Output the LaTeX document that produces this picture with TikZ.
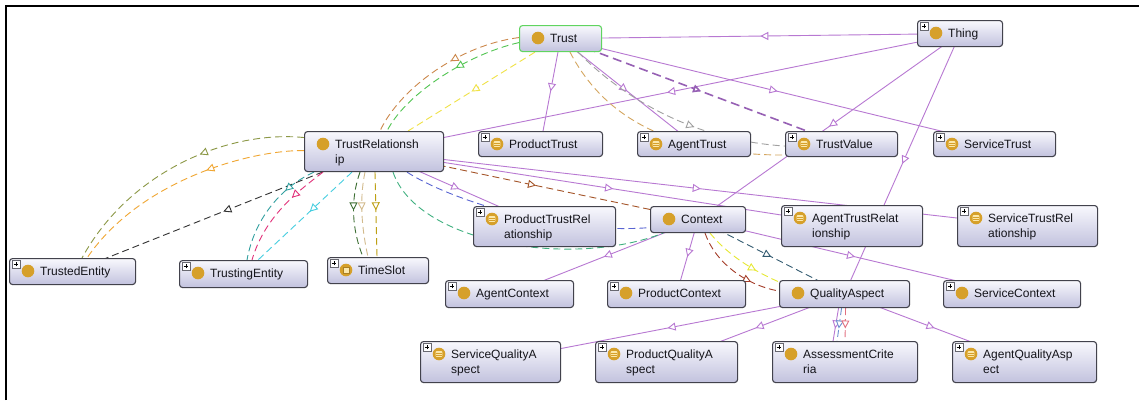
\documentclass[tikz,border=0pt]{standalone}
\usepackage{fontspec}
\setmainfont{Liberation Sans}
\usetikzlibrary{arrows.meta,decorations.markings,backgrounds,calc}

% class boxes and icons
\definecolor{isacol}{RGB}{184,120,210}
\definecolor{boxline}{RGB}{66,66,76}
\definecolor{boxtop}{RGB}{248,248,253}
\definecolor{boxbottom}{RGB}{194,194,222}
\definecolor{rootline}{RGB}{96,212,96}
\definecolor{iconfill}{RGB}{214,160,42}
\definecolor{iconlight}{RGB}{252,232,170}
\definecolor{labelcol}{RGB}{20,20,26}
% object property colours
\definecolor{pBrownT}{RGB}{204,136,76}
\definecolor{pGreenT}{RGB}{80,196,80}
\definecolor{pYellowT}{RGB}{240,226,70}
\definecolor{pOlive}{RGB}{140,152,70}
\definecolor{pOrange}{RGB}{240,166,50}
\definecolor{pBlack}{RGB}{50,50,50}
\definecolor{pTeal}{RGB}{50,160,160}
\definecolor{pPink}{RGB}{226,50,122}
\definecolor{pCyan}{RGB}{70,206,224}
\definecolor{pDarkGreen}{RGB}{60,110,50}
\definecolor{pTan}{RGB}{210,186,140}
\definecolor{pGold}{RGB}{190,160,20}
\definecolor{pRust}{RGB}{164,84,40}
\definecolor{pBlue}{RGB}{88,100,210}
\definecolor{pSea}{RGB}{64,176,128}
\definecolor{pViolet}{RGB}{150,96,180}
\definecolor{pGrey}{RGB}{160,160,160}
\definecolor{pSand}{RGB}{212,166,96}
\definecolor{pRed}{RGB}{164,60,40}
\definecolor{pLemon}{RGB}{230,232,50}
\definecolor{pSlate}{RGB}{50,90,112}
\definecolor{pSteel}{RGB}{110,144,208}
\definecolor{pRose}{RGB}{226,112,128}

\tikzset{
  clsbox/.style={draw=boxline, line width=1.1pt, rounded corners=3pt,
    top color=boxtop, bottom color=boxbottom, inner sep=0pt, anchor=north west},
  rootbox/.style={draw=rootline},
  clstext/.style={anchor=base west, inner sep=0pt, text=labelcol,
    font=\fontsize{12}{15}\selectfont},
  circicon/.style={circle, fill=iconfill, minimum size=12.6pt, inner sep=0pt},
  equivicon/.style={circicon, path picture={
      \fill[iconlight, rounded corners=0.8pt]
        ([shift={(-3.4pt,-2.8pt)}]path picture bounding box.center)
        rectangle ([shift={(3.4pt,2.8pt)}]path picture bounding box.center);
      \draw[iconfill, line width=0.8pt]
        ([shift={(-3.4pt,0.9pt)}]path picture bounding box.center) -- ++(6.8pt,0pt)
        ([shift={(-3.4pt,-0.9pt)}]path picture bounding box.center) -- ++(6.8pt,0pt);}},
  sloticon/.style={circicon, path picture={
      \filldraw[fill=iconlight, draw=iconfill!80!black, line width=0.4pt]
        ([shift={(-2.8pt,-2.8pt)}]path picture bounding box.center)
        rectangle ([shift={(2.8pt,2.8pt)}]path picture bounding box.center);}},
  plusbox/.style={draw=boxline!80, fill=white, line width=0.5pt,
    minimum size=7.5pt, inner sep=0pt, path picture={
      \draw[black, line width=0.8pt]
        ([xshift=-2.3pt]path picture bounding box.center) -- ++(4.6pt,0pt)
        ([yshift=-2.3pt]path picture bounding box.center) -- ++(0pt,4.6pt);}},
  mid/.style={postaction={decorate, decoration={markings,
      mark=at position #1 with {\arrow{Triangle[length=8pt,width=8pt,fill=white]}}}}},
  isa/.style={draw=isacol, line width=0.9pt},
  prop/.style={draw=#1, line width=0.9pt, dash pattern=on 7pt off 4pt},
  boldprop/.style={draw=#1, line width=1.6pt, dash pattern=on 9pt off 5pt},
}

% #1 extra box style, #2 name, #3 left, #4 top, #5 width, #6 height,
% #7 icon style, #8 first line, #9 second line
\newcommand\owlclass[9][]{%
  \node[clsbox, #1, minimum width=#5pt, minimum height=#6pt] (#2) at (#3,#4) {};
  \node[#7] (#2-icon) at ($(#2.north west)+(19,13)$) {};
  \node[clstext] (#2-text) at ($(#2.north west)+(31,17.5)$) {#8};
  \if\relax\detokenize{#9}\relax\else
    \node[clstext] (#2-text2) at ($(#2.north west)+(31,32.5)$) {#9};
  \fi
}
\newcommand\owlplus[1]{\node[plusbox] (#1-plus) at ($(#1.north west)+(7,6)$) {};}

\begin{document}
\begin{tikzpicture}[x=1pt, y=-1pt]
\useasboundingbox (0,0) rectangle (1139,400);

% classes
\owlclass[rootbox]{Trust}{519}{25}{82}{26}{circicon}{Trust}{}
\owlclass{Thing}{917}{20}{85}{26}{circicon}{Thing}{}
\owlclass{TrustRel}{304}{131}{139}{40}{circicon}{TrustRelationsh}{ip}
\owlclass{ProductTrust}{478}{131}{124}{25}{equivicon}{ProductTrust}{}
\owlclass{AgentTrust}{637}{131}{113}{25}{equivicon}{AgentTrust}{}
\owlclass{TrustValue}{785}{131}{112}{25}{equivicon}{TrustValue}{}
\owlclass{ServiceTrust}{933}{131}{122}{25}{equivicon}{ServiceTrust}{}
\owlclass{TrustedEntity}{9}{258}{126}{26}{circicon}{TrustedEntity}{}
\owlclass{TrustingEntity}{179}{260}{128}{27}{circicon}{TrustingEntity}{}
\owlclass{TimeSlot}{327}{257}{101}{26}{sloticon}{TimeSlot}{}
\owlclass{ProductTrustRel}{473}{206}{142}{40}{equivicon}{ProductTrustRel}{ationship}
\owlclass{Context}{650}{206}{95}{26}{circicon}{Context}{}
\owlclass{AgentTrustRel}{781}{205}{141}{41}{equivicon}{AgentTrustRelat}{ionship}
\owlclass{ServiceTrustRel}{957}{205}{140}{41}{equivicon}{ServiceTrustRel}{ationship}
\owlclass{AgentContext}{445}{280}{128}{27}{circicon}{AgentContext}{}
\owlclass{ProductContext}{607}{280}{138}{27}{circicon}{ProductContext}{}
\owlclass{QualityAspect}{779}{280}{130}{27}{circicon}{QualityAspect}{}
\owlclass{ServiceContext}{943}{280}{137}{27}{circicon}{ServiceContext}{}
\owlclass{ServiceQualityAspect}{420}{341}{140}{41}{equivicon}{ServiceQualityA}{spect}
\owlclass{ProductQualityAspect}{595}{341}{142}{41}{equivicon}{ProductQualityA}{spect}
\owlclass{AssessmentCriteria}{772}{341}{145}{41}{circicon}{AssessmentCrite}{ria}
\owlclass{AgentQualityAspect}{952}{341}{144}{41}{equivicon}{AgentQualityAsp}{ect}

\foreach \c in {Thing,ProductTrust,AgentTrust,TrustValue,ServiceTrust,
  TrustedEntity,TrustingEntity,TimeSlot,ProductTrustRel,AgentTrustRel,
  ServiceTrustRel,AgentContext,ProductContext,ServiceContext,
  ServiceQualityAspect,ProductQualityAspect,AssessmentCriteria,AgentQualityAspect}
  {\owlplus{\c}}

\begin{pgfonlayer}{background}
\fill[white] (0,0) rectangle (1139,400);

% subclass edges
\draw[isa, mid=0.5] (Thing.center) -- (Trust.center);
\draw[isa, mid=0.5] (Thing.center) -- (TrustRel.center);
\draw[isa, mid=0.5] (Thing.center) -- (Context.center);
\draw[isa, mid=0.5] (Thing.center) -- (QualityAspect.center);
\draw[isa, mid=0.5] (Trust.center) -- (ProductTrust.center);
\draw[isa, mid=0.5] (Trust.center) -- (AgentTrust.center);
\draw[isa, mid=0.5] (Trust.center) -- (ServiceTrust.center);
\draw[isa, mid=0.5] (TrustRel.center) -- (ProductTrustRel.center);
\draw[isa, mid=0.5] (TrustRel.center) -- (AgentTrustRel.center);
\draw[isa, mid=0.5] (TrustRel.center) -- (ServiceTrustRel.center);
\draw[isa, mid=0.5] (Context.center) -- (AgentContext.center);
\draw[isa, mid=0.5] (Context.center) -- (ProductContext.center);
\draw[isa, mid=0.5] (Context.center) -- (ServiceContext.center);
\draw[isa, mid=0.5] (QualityAspect.center) -- (ServiceQualityAspect.center);
\draw[isa, mid=0.5] (QualityAspect.center) -- (ProductQualityAspect.center);
\draw[isa, mid=0.5] (QualityAspect.center) -- (AgentQualityAspect.center);
\draw[isa, mid=0.62] ($(QualityAspect.south)+(-6,0)$) -- ($(AssessmentCriteria.north)+(-12,0)$);

% Trust -> TrustRelationship
\draw[prop=pBrownT, mid=0.42] ($(Trust.west)+(0,-1)$)
  .. controls (460,45) and (400,88) .. ($(TrustRel.north west)+(76,0)$);
\draw[prop=pGreenT, mid=0.42] ($(Trust.west)+(0,4)$)
  .. controls (465,55) and (405,95) .. ($(TrustRel.north west)+(83,0)$);
\draw[prop=pYellowT, mid=0.5] ($(Trust.south west)+(16,0)$) -- ($(TrustRel.north west)+(104,0)$);

% Trust -> TrustValue
\draw[boldprop=pViolet, mid=0.5] (Trust.center) -- (TrustValue.center);
\draw[prop=pGrey, mid=0.6] ($(Trust.south west)+(59,0)$)
  .. controls (620,95) and (690,140) .. ($(TrustValue.west)+(0,2)$);
\draw[prop=pSand, mid=0.7] ($(Trust.south west)+(51,0)$)
  .. controls (600,110) and (660,155) .. ($(TrustValue.west)+(0,11)$);

% TrustRelationship -> TrustedEntity
\draw[prop=pOlive, mid=0.4] ($(TrustRel.west)+(0,-14)$)
  .. controls (230,130) and (130,170) .. ($(TrustedEntity.north west)+(73,0)$);
\draw[prop=pOrange, mid=0.4] ($(TrustRel.west)+(0,-1)$)
  .. controls (250,150) and (140,180) .. ($(TrustedEntity.north west)+(78,0)$);
\draw[prop=pBlack, mid=0.5] (TrustRel.center) -- (TrustedEntity.center);

% TrustRelationship -> TrustingEntity
\draw[prop=pTeal, mid=0.3] ($(TrustRel.south west)+(10,0)$)
  .. controls (285,185) and (255,215) .. ($(TrustingEntity.north west)+(68,0)$);
\draw[prop=pPink, mid=0.35] ($(TrustRel.south west)+(19,0)$)
  .. controls (300,190) and (265,215) .. ($(TrustingEntity.north west)+(73,0)$);
\draw[prop=pCyan, mid=0.45] ($(TrustRel.south west)+(48,0)$) -- ($(TrustingEntity.north west)+(79,0)$);

% TrustRelationship -> TimeSlot
\draw[prop=pDarkGreen, mid=0.45] ($(TrustRel.south west)+(56,0)$)
  .. controls (350,200) and (352,230) .. ($(TimeSlot.north west)+(36,0)$);
\draw[prop=pTan, mid=0.45] ($(TrustRel.south west)+(61,0)$)
  .. controls (359,200) and (362,230) .. ($(TimeSlot.north west)+(41,0)$);
\draw[prop=pGold, mid=0.45] ($(TrustRel.south west)+(71,0)$) -- ($(TimeSlot.north west)+(50,0)$);

% TrustRelationship -> Context
\draw[prop=pRust, mid=0.5] (TrustRel.center) -- (Context.center);
\draw[prop=pBlue, mid=0.6] ($(TrustRel.south west)+(103,0)$)
  .. controls (450,200) and (560,235) .. ($(Context.west)+(0,8)$);
\draw[prop=pSea, mid=0.47] ($(TrustRel.south west)+(89,0)$)
  .. controls (418,245) and (575,268) .. ($(Context.south west)+(13,0)$);

% Context -> QualityAspect
\draw[prop=pRed, mid=0.7] ($(Context.south west)+(55,0)$)
  .. controls (715,262) and (745,285) .. ($(QualityAspect.west)+(0,-3)$);
\draw[prop=pLemon, mid=0.7] ($(Context.south west)+(60,0)$)
  .. controls (728,255) and (752,270) .. ($(QualityAspect.north west)+(0,2)$);
\draw[prop=pSlate, mid=0.5] (Context.center) -- (QualityAspect.center);

% QualityAspect -> AssessmentCriteria
\draw[prop=pSteel, mid=0.62] ($(QualityAspect.south)+(-3,0)$) -- ($(AssessmentCriteria.north)+(-8,0)$);
\draw[prop=pRose, mid=0.62] ($(QualityAspect.south)+(1,0)$) -- ($(AssessmentCriteria.north)+(0,0)$);
\end{pgfonlayer}

% frame
\draw[line width=2pt] (6,400) -- (6,6) -- (1139,6);
\end{tikzpicture}
\end{document}
